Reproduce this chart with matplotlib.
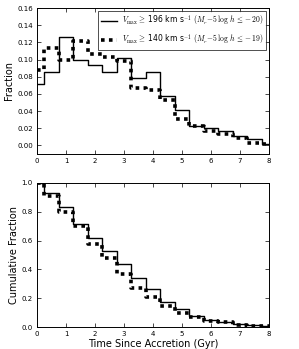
import numpy as np
import matplotlib
matplotlib.use("Agg")
import matplotlib.pyplot as plt

plt.rcParams['mathtext.fontset'] = 'cm'
plt.rcParams['font.family'] = 'DejaVu Sans'

# bin centres (Gyr), half-width bins at the ends
t = [0.0, 0.5, 1.0, 1.5, 2.0, 2.5, 3.0, 3.5, 4.0, 4.5, 5.0, 5.5, 6.0, 6.5, 7.0, 7.5, 8.0]

frac_196 = [0.071, 0.086, 0.126, 0.099, 0.094, 0.086, 0.102, 0.079, 0.085,
            0.058, 0.041, 0.023, 0.020, 0.017, 0.011, 0.007, 0.002]
frac_140 = [0.088, 0.113, 0.100, 0.122, 0.107, 0.103, 0.098, 0.067, 0.065,
            0.053, 0.031, 0.022, 0.017, 0.013, 0.009, 0.003, 0.001]

cum_196 = [1.0, 0.928, 0.836, 0.717, 0.618, 0.525, 0.438, 0.338, 0.263,
           0.176, 0.123, 0.079, 0.051, 0.037, 0.021, 0.012, 0.007]
cum_140 = [1.0, 0.907, 0.797, 0.699, 0.576, 0.479, 0.368, 0.273, 0.210,
           0.146, 0.099, 0.067, 0.044, 0.033, 0.016, 0.007, 0.005]

label_196 = r'$V_{\rm max} \geq$ 196 km s$^{-1}$ $(M_r\!-\!5\,\log\,h\,\leq\! -20)$'
label_140 = r'$V_{\rm max} \geq$ 140 km s$^{-1}$ $(M_r\!-\!5\,\log\,h\,\leq\! -19)$'

fig = plt.figure(figsize=(2.99, 3.49), dpi=100)
ax1 = fig.add_axes([0.124, 0.559, 0.776, 0.418])
ax2 = fig.add_axes([0.124, 0.063, 0.776, 0.413])

solid = dict(color='black', lw=1.0, drawstyle='steps-mid')
dotted = dict(color='black', lw=2.6, drawstyle='steps-mid', linestyle=(0, (1, 1.2)))

ax1.plot(t, frac_196, label=label_196, **solid)
ax1.plot(t, frac_140, label=label_140, **dotted)
ax1.set_xlim(0, 8)
ax1.set_ylim(-0.01, 0.16)
ax1.set_yticks(np.arange(0, 0.161, 0.02))
ax1.set_ylabel('Fraction', fontsize=7, labelpad=2)
leg = ax1.legend(loc='upper right', fontsize=5.5, frameon=True, fancybox=False,
                 handlelength=2.2, borderaxespad=0.35, handletextpad=0.6,
                 labelspacing=0.5, borderpad=0.4)
leg.get_frame().set_edgecolor('black')
leg.get_frame().set_linewidth(0.6)

ax2.plot(t, cum_196, **solid)
ax2.plot(t, cum_140, **dotted)
ax2.set_xlim(0, 8)
ax2.set_ylim(0, 1)
ax2.set_yticks(np.arange(0, 1.01, 0.2))
ax2.set_ylabel('Cumulative Fraction', fontsize=7, labelpad=2)
ax2.set_xlabel('Time Since Accretion (Gyr)', fontsize=7, labelpad=1)

for ax in (ax1, ax2):
    ax.tick_params(direction='in', top=True, right=True, labelsize=5,
                   length=3, width=0.5, pad=3)
    for s in ax.spines.values():
        s.set_linewidth(0.7)

fig.savefig('out.png', dpi=100)
